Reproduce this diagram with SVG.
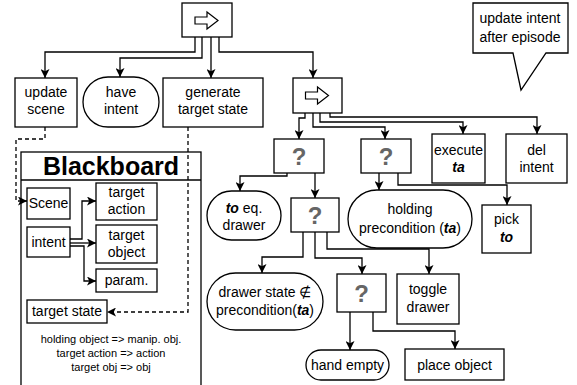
<svg xmlns="http://www.w3.org/2000/svg" width="577" height="385" viewBox="0 0 577 385">
<defs>
<marker id="ah" viewBox="0 0 10 10" refX="10" refY="5" markerWidth="9" markerHeight="9" markerUnits="userSpaceOnUse" orient="auto">
<path d="M0,0 L10,5 L0,10 L2.5,5 Z" fill="#000"/>
</marker>
<path id="seqicon" d="M195,17 H207 V12 L218,20.5 L207,29 V24 H195 Z" fill="#fff" stroke="#000" stroke-width="1.2"/>
</defs>
<style>
.b{fill:#fff;stroke:#000;stroke-width:1.3}
.t{font-family:"Liberation Sans",Arial,sans-serif;font-size:14px;fill:#000;text-anchor:middle}
.s{font-family:"Liberation Sans",Arial,sans-serif;font-size:11px;fill:#000;text-anchor:middle}
.q{font-family:"Liberation Sans",Arial,sans-serif;font-size:24px;font-weight:bold;fill:#666;text-anchor:middle}
.bi{font-weight:bold;font-style:italic}
.c{fill:none;stroke:#000;stroke-width:1.3;marker-end:url(#ah)}
.d{fill:none;stroke:#000;stroke-width:1.3;stroke-dasharray:4 3;marker-end:url(#ah)}
</style>
<rect width="577" height="385" fill="#fff"/>

<g id="blackboard">
<rect class="b" x="21" y="152" width="180" height="240"/>
<line x1="21" y1="180" x2="201" y2="180" stroke="#000" stroke-width="1.3"/>
<text x="111" y="175" font-family="Liberation Sans,Arial,sans-serif" font-size="25" font-weight="bold" text-anchor="middle">Blackboard</text>
<text class="s" x="111" y="343">holding object =&gt; manip. obj.</text>
<text class="s" x="111" y="357">target action =&gt; action</text>
<text class="s" x="111" y="371">target obj =&gt; obj</text>
</g>

<g id="connectors">
<path class="c" d="M195,37 V52 H45 V78"/>
<path class="c" d="M202,37 V58 H120 V77"/>
<path class="c" d="M211,37 V78"/>
<path class="c" d="M219,37 V52 H313 V78"/>
<path class="c" d="M305,113 V118 H299 V139"/>
<path class="c" d="M313,113 V127 H385 V139"/>
<path class="c" d="M320,113 V122 H463 V134"/>
<path class="c" d="M330,113 V117 H537 V134"/>
<path class="c" d="M287,173 V176 H240 V191"/>
<path class="c" d="M315,173 V198"/>
<path class="c" d="M379,173 V190"/>
<path class="c" d="M398,173 V185 H507 V205"/>
<path class="c" d="M303,232 V257 H262 V273"/>
<path class="c" d="M315,232 V258 H362 V274"/>
<path class="c" d="M327,232 V249 H429 V274"/>
<path class="c" d="M350,312 V350"/>
<path class="c" d="M373,312 V331 H455 V349"/>
<path class="d" d="M45,127 V139 H16 V201 H27"/>
<path class="d" d="M188,127 V312 H107"/>
<path class="c" d="M70,239 H82 V201 H96"/>
<path class="c" d="M70,243 H96"/>
<path class="c" d="M70,246 H84 V281 H96"/>
</g>

<g id="seq1">
<rect class="b" x="182" y="3" width="50" height="34"/>
<use href="#seqicon"/>
</g>
<g id="update-scene">
<rect class="b" x="15" y="78" width="62" height="49"/>
<text class="t" x="46" y="97">update</text>
<text class="t" x="46" y="114">scene</text>
</g>
<g id="have-intent">
<rect class="b" x="83" y="77" width="76" height="50" rx="25"/>
<text class="t" x="121" y="97">have</text>
<text class="t" x="121" y="114">intent</text>
</g>
<g id="generate-target-state">
<rect class="b" x="163" y="78" width="100" height="49"/>
<text class="t" x="213" y="97">generate</text>
<text class="t" x="213" y="114">target state</text>
</g>
<g id="seq2">
<rect class="b" x="293" y="78" width="49" height="35"/>
<use href="#seqicon" transform="translate(110.5,75)"/>
</g>
<g id="callout">
<path class="b" d="M473,3 H568 V53 H546 L521,90 L513,53 H473 Z"/>
<text class="t" x="520" y="23">update intent</text>
<text class="t" x="520" y="42">after episode</text>
</g>
<g id="execute-ta">
<rect class="b" x="432" y="134" width="53" height="49"/>
<text class="t" x="458.5" y="155">execute</text>
<text class="t bi" x="458.5" y="172">ta</text>
</g>
<g id="del-intent">
<rect class="b" x="506" y="134" width="61" height="49"/>
<text class="t" x="536.5" y="155">del</text>
<text class="t" x="536.5" y="172">intent</text>
</g>
<g id="fb1">
<rect class="b" x="274" y="139" width="50" height="34"/>
<text class="q" x="299" y="165">?</text>
</g>
<g id="fb2">
<rect class="b" x="361" y="139" width="50" height="34"/>
<text class="q" x="386" y="165">?</text>
</g>
<g id="to-eq-drawer">
<rect class="b" x="207" y="191" width="74" height="49" rx="24.5"/>
<text class="t" x="244" y="213"><tspan class="bi">to</tspan> eq.</text>
<text class="t" x="244" y="230">drawer</text>
</g>
<g id="fb3">
<rect class="b" x="291" y="198" width="48" height="34"/>
<text class="q" x="315" y="224">?</text>
</g>
<g id="holding-precondition">
<rect class="b" x="348" y="190" width="124" height="58" rx="29"/>
<text class="t" x="410" y="214">holding</text>
<text class="t" x="410" y="233">precondition (<tspan class="bi">ta</tspan>)</text>
</g>
<g id="pick-to">
<rect class="b" x="482" y="205" width="49" height="48"/>
<text class="t" x="506.5" y="224">pick</text>
<text class="t bi" x="506.5" y="242">to</text>
</g>
<g id="drawer-state">
<rect class="b" x="207" y="273" width="116" height="57" rx="28.5"/>
<text class="t" x="265" y="297">drawer state ∉</text>
<text class="t" x="265" y="315">precondition(<tspan class="bi">ta</tspan>)</text>
</g>
<g id="fb4">
<rect class="b" x="337" y="274" width="49" height="38"/>
<text class="q" x="361.5" y="302">?</text>
</g>
<g id="toggle-drawer">
<rect class="b" x="397" y="274" width="62" height="50"/>
<text class="t" x="428" y="294">toggle</text>
<text class="t" x="428" y="312">drawer</text>
</g>
<g id="hand-empty">
<rect class="b" x="306" y="350" width="83" height="30" rx="15"/>
<text class="t" x="347.5" y="370">hand empty</text>
</g>
<g id="place-object">
<rect class="b" x="405" y="349" width="99" height="31"/>
<text class="t" x="454.5" y="370">place object</text>
</g>

<g id="bb-scene">
<rect class="b" x="27" y="188" width="43" height="31"/>
<text class="t" x="48.5" y="208">Scene</text>
</g>
<g id="bb-intent">
<rect class="b" x="27" y="227" width="43" height="30"/>
<text class="t" x="48.5" y="247">intent</text>
</g>
<g id="bb-target-action">
<rect class="b" x="96" y="183" width="61" height="37"/>
<text class="t" x="126.5" y="197">target</text>
<text class="t" x="126.5" y="214">action</text>
</g>
<g id="bb-target-object">
<rect class="b" x="96" y="225" width="61" height="38"/>
<text class="t" x="126.5" y="240">target</text>
<text class="t" x="126.5" y="257">object</text>
</g>
<g id="bb-param">
<rect class="b" x="96" y="269" width="61" height="23"/>
<text class="t" x="126.5" y="285">param.</text>
</g>
<g id="bb-target-state">
<rect class="b" x="27" y="300" width="80" height="23"/>
<text class="t" x="67" y="316">target state</text>
</g>
</svg>
